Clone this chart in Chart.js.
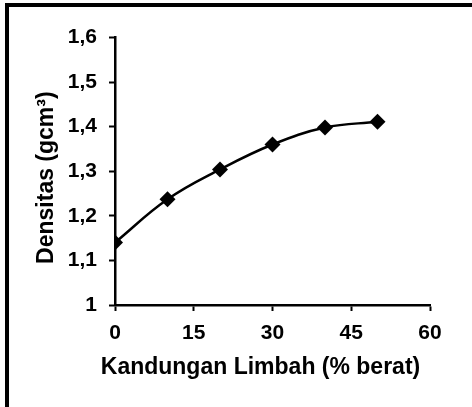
<!DOCTYPE html>
<html>
<head>
<meta charset="utf-8">
<script src="https://cdn.jsdelivr.net/npm/chart.js@4/dist/chart.umd.min.js"></script>
<style>
  body { margin: 0; background: #fff; }
  #wrap { position: relative; width: 472px; height: 407px; }
  #cadre { position: absolute; left: 5px; top: 3px; width: 463px; height: 400px;
           border-left: 4px solid #000; border-top: 4px solid #000; }
  #myChart { position: absolute; left: 0; top: 0; }
</style>
</head>
<body>
<div id="wrap">
  <div id="cadre"></div>
  <canvas id="myChart" width="472" height="407"></canvas>
</div>
<script>
// donnees
let kandungan = [0, 10, 20, 30, 40, 50];
let densitas = [1.14, 1.237, 1.304, 1.36, 1.398, 1.411];
let xTicks = [0, 15, 30, 45, 60];
let yTickLabels = ["1", "1,1", "1,2", "1,3", "1,4", "1,5", "1,6"];
let titreX = "Kandungan Limbah (% berat)";
let titreY = "Densitas (gcm³)";

let police = "'Liberation Sans', Arial, sans-serif";

let points = [];
for (let i = 0; i < kandungan.length; ++i) {
  points.push({ x: kandungan[i], y: densitas[i] });
}

const data = {
  datasets: [
    {
      label: "Densitas",
      data: points,
      borderColor: "#000",
      backgroundColor: "#000",
      borderWidth: 2.5,
      tension: 0.4,
      pointStyle: "rectRot",
      pointRadius: 8,
      pointBackgroundColor: "#000",
      pointBorderColor: "#000",
      pointBorderWidth: 0,
    },
  ],
};

// titre de l'axe x : un peu decale a gauche comme dans l'original
// (le titre de l'echelle serait comprime car plus large que l'axe)
const titreAxeX = {
  id: "titreAxeX",
  afterDraw(chart) {
    const ctx = chart.ctx;
    const x = chart.scales.x;
    ctx.save();
    ctx.font = "bold 23px " + police;
    ctx.fillStyle = "#000";
    ctx.textAlign = "center";
    ctx.textBaseline = "middle";
    ctx.fillText(titreX, (x.left + x.right) / 2 - 12, x.bottom - 39);
    ctx.restore();
  },
};

const config = {
  type: "line",
  data: data,
  plugins: [titreAxeX],
  options: {
    responsive: false,
    animation: false,
    layout: {
      padding: { top: 37.5, right: 42, left: 0, bottom: 0 },
    },
    plugins: {
      legend: { display: false },
      tooltip: { enabled: false },
    },
    scales: {
      x: {
        type: "linear",
        min: xTicks[0],
        max: xTicks[xTicks.length - 1],
        afterBuildTicks: (scale) => {
          scale.ticks = xTicks.map((v) => ({ value: v }));
        },
        afterFit: (scale) => {
          scale.height = 102;
        },
        border: { color: "#000", width: 2.5 },
        grid: { drawOnChartArea: false, color: "#000", tickLength: 6, tickWidth: 2 },
        ticks: {
          color: "#000",
          padding: 10,
          font: { family: police, size: 21, weight: "bold" },
        },
        title: { display: false },
      },
      y: {
        min: 1,
        max: 1.6,
        afterBuildTicks: (scale) => {
          scale.ticks = yTickLabels.map((t, i) => ({ value: 1 + i / 10 }));
        },
        afterFit: (scale) => {
          scale.width = 115;
        },
        border: { color: "#000", width: 2.5 },
        grid: { drawOnChartArea: false, color: "#000", tickLength: 6, tickWidth: 2 },
        ticks: {
          color: "#000",
          padding: 12,
          font: { family: police, size: 21, weight: "bold" },
          callback: (value, index) => yTickLabels[index],
        },
        title: {
          display: true,
          text: titreY + "\u00a0\u00a0",
          color: "#000",
          padding: { top: 33, bottom: 0 },
          font: { family: police, size: 23, weight: "bold" },
        },
      },
    },
  },
};

let context = document.getElementById("myChart").getContext("2d");
let chart = new Chart(context, config);
</script>
</body>
</html>
